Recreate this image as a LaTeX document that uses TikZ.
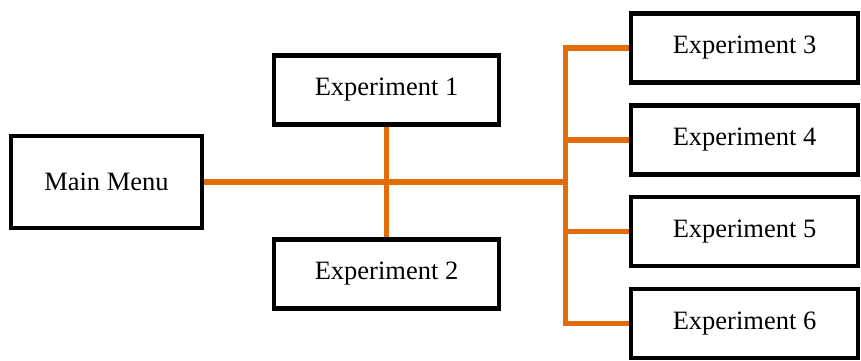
\documentclass[tikz,border=0pt]{standalone}
\usepackage{fontspec}
\setmainfont{Liberation Serif}
\usetikzlibrary{backgrounds}
\definecolor{linkorange}{RGB}{227,108,10}
\tikzset{
  box/.style={draw=black, line width=4.8pt, fill=white, inner sep=0pt,
    minimum width=225pt, minimum height=69pt, font=\fontsize{26.5}{31}\selectfont},
  rbox/.style={box, minimum width=227pt},
  conn/.style={draw=linkorange, line width=5.2pt, line join=miter}
}
\begin{document}
\begin{tikzpicture}[x=1pt,y=-1pt]
\useasboundingbox (0,0) rectangle (861,360);
\node[box, minimum width=191pt, minimum height=92pt] (main) at (106.5,182) {Main Menu};
\node[box] (e1) at (386.5,90) {Experiment 1};
\node[box] (e2) at (386.5,274) {Experiment 2};
\node[rbox] (e3) at (744.5,48) {Experiment 3};
\node[rbox] (e4) at (744.5,140) {Experiment 4};
\node[rbox] (e5) at (744.5,231.5) {Experiment 5};
\node[rbox] (e6) at (744.5,323.5) {Experiment 6};
\coordinate (j) at (565.5,183);
\begin{scope}[on background layer]
\draw[conn] (main.east) -- (j |- main.east);
\draw[conn] (e1.south) -- (e2.north);
\draw[conn] (e3.west) -- (j |- e3.west) -- (j |- e6.west) -- (e6.west);
\draw[conn] (j |- e4.west) -- (e4.west);
\draw[conn] (j |- e5.west) -- (e5.west);
\end{scope}
\end{tikzpicture}
\end{document}
